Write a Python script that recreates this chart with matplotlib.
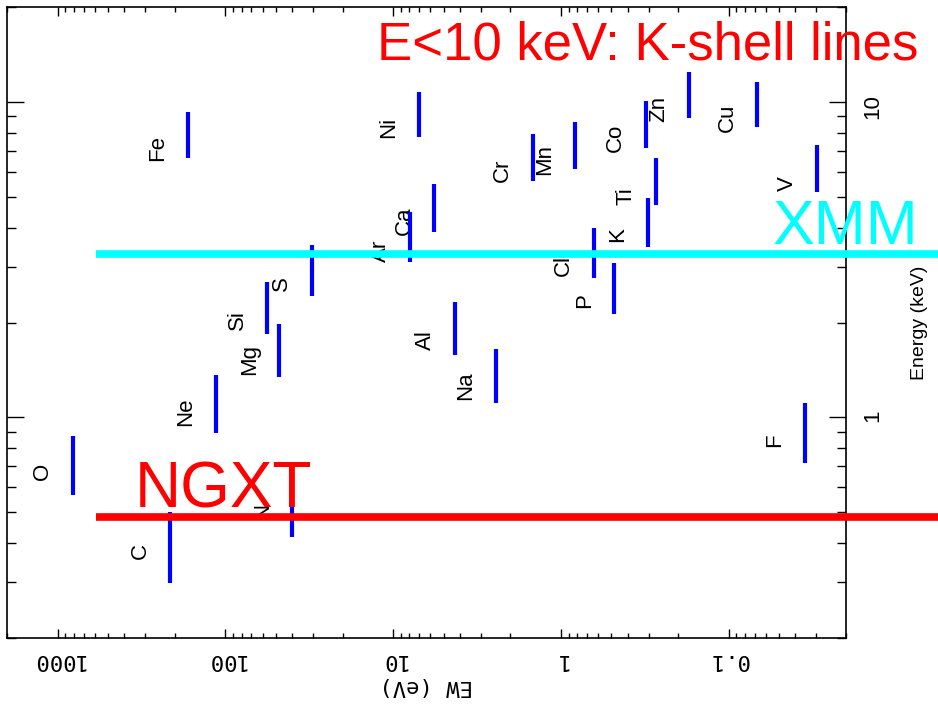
import matplotlib
matplotlib.use("Agg")
import matplotlib.pyplot as plt
from matplotlib.ticker import NullFormatter

# K-shell lines: equivalent width (eV), energy band (keV) and where the name sits (keV)
elements = ["C", "N", "O", "F", "Ne", "Na", "Mg", "Al", "Si", "P", "S", "Cl",
            "Ar", "K", "Ca", "Ti", "V", "Cr", "Mn", "Fe", "Co", "Ni", "Cu", "Zn"]
ew = [213, 39.9, 809, 0.0351, 114, 2.44, 47.7, 4.25, 56.3, 0.48, 30.6, 0.637,
      7.89, 0.304, 5.68, 0.272, 0.0296, 1.47, 0.823, 166.7, 0.313, 7.05, 0.0675, 0.1726]
e_lo = [0.298, 0.419, 0.568, 0.718, 0.896, 1.111, 1.34, 1.58, 1.845, 2.135, 2.43, 2.77,
        3.12, 3.475, 3.87, 4.71, 5.18, 5.61, 6.11, 6.63, 7.16, 7.74, 8.33, 8.92]
e_hi = [0.50, 0.666, 0.875, 1.108, 1.366, 1.652, 1.98, 2.32, 2.69, 3.09, 3.52, 3.98,
        4.47, 4.97, 5.51, 6.66, 7.29, 7.94, 8.64, 9.32, 10.07, 10.79, 11.61, 12.45]
label_e = [0.356, 0.477, 0.634, 0.807, 0.943, 1.138, 1.366, 1.64, 1.898, 2.23, 2.525, 2.80,
           3.12, 3.59, 3.80, 4.73, 5.21, 5.56, 5.89, 6.48, 6.92, 7.67, 8.01, 8.62]

# detector thresholds (keV) and the EW where their bars start
xmm_e = 3.29
ngxt_e = 0.485
thresh_ew_start = 590

ew_ticks = [1000, 100, 10, 1, 0.1]
ew_ticklabels = ["1000", "100", "10", "1", "0.1"]
e_ticks = [1, 10]
e_ticklabels = ["1", "10"]

narrow = ["Liberation Sans", "DejaVu Sans"]
mono = ["DejaVu Sans Mono"]

fig = plt.figure(figsize=(9.38, 7.10), dpi=100)
ax = fig.add_axes([7 / 938, 1 - 638 / 710, 839 / 938, 631 / 710])

ax.set_xscale("log")
ax.set_yscale("log")
ax.set_xlim(2000, 0.02)
ax.set_ylim(0.2, 20)

ax.vlines(ew, e_lo, e_hi, colors="#0000ff", linewidth=3, zorder=3)
for name, x, y in zip(elements, ew, label_e):
    ax.annotate(name, xy=(x, y), xytext=(-30, 0), textcoords="offset pixels",
                rotation=90, ha="center", va="bottom", fontsize=16,
                family=narrow, zorder=2)

# thresholds run out past the right spine
ax.plot([thresh_ew_start, 0.004], [xmm_e, xmm_e], color="#00ffff", linewidth=5.5,
        solid_capstyle="butt", clip_on=False, zorder=4)
ax.plot([thresh_ew_start, 0.004], [ngxt_e, ngxt_e], color="#ff0000", linewidth=5.5,
        solid_capstyle="butt", clip_on=False, zorder=4)

ax.set_xticks(ew_ticks, labels=ew_ticklabels)
ax.set_yticks(e_ticks, labels=e_ticklabels)
ax.xaxis.set_minor_formatter(NullFormatter())
ax.yaxis.set_minor_formatter(NullFormatter())

ax.tick_params(which="both", direction="in", top=True, bottom=True,
               left=True, right=True, width=1, color="black")
ax.tick_params(axis="x", which="major", length=6.5)
ax.tick_params(axis="x", which="minor", length=3.5)
ax.tick_params(axis="y", which="major", length=12)
ax.tick_params(axis="y", which="minor", length=6.5)
ax.tick_params(axis="x", labelrotation=180, labelsize=16, pad=9)
ax.tick_params(axis="y", labelleft=False, labelright=True, labelrotation=90,
               labelsize=16, pad=12)
for lab in ax.get_xticklabels():
    lab.set_family(mono)
for lab in ax.get_yticklabels():
    lab.set_family(narrow)

ax.set_xlabel("EW (eV)", rotation=180, fontsize=16, family=mono, labelpad=4)
ax.yaxis.set_label_position("right")
ax.set_ylabel("Energy (keV)", rotation=90, fontsize=14, family=narrow, labelpad=20)

for sp in ax.spines.values():
    sp.set_linewidth(1.2)

big = ["Liberation Sans", "DejaVu Sans"]
fig.text(918 / 938, 1 - 59 / 710, "E<10 keV: K-shell lines", color="#ff0000",
         fontsize=38, family=big, ha="right", va="baseline", zorder=5)
fig.text(918 / 938, 1 - 244 / 710, "XMM", color="#00ffff",
         fontsize=45, family=big, ha="right", va="baseline", zorder=5)
fig.text(135 / 938, 1 - 507 / 710, "NGXT", color="#ff0000",
         fontsize=46, family=big, ha="left", va="baseline", zorder=5)

fig.savefig("out.png", dpi=100)
